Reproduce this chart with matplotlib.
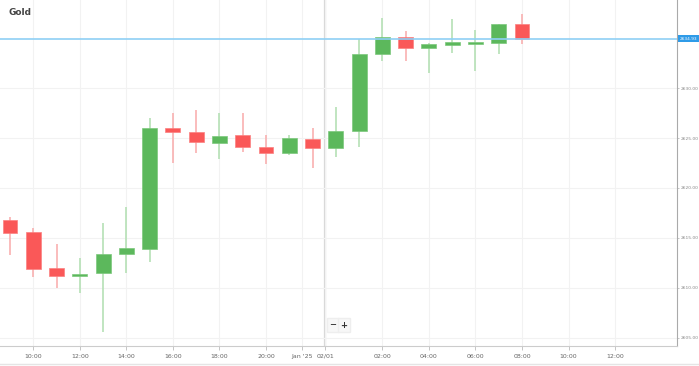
import matplotlib.pyplot as plt
from matplotlib.lines import Line2D

# hourly candles, slot index on x (market break leaves one hour out)
slots = list(range(23))
opens = [2616.8, 2615.6, 2612.0, 2611.2, 2611.5, 2613.4, 2613.9, 2626.0, 2625.6, 2624.5, 2625.3, 2624.1,
         2623.5, 2624.9, 2624.0, 2625.7, 2633.4, 2635.1, 2634.0, 2634.3, 2634.4, 2634.5, 2636.4]
closes = [2615.5, 2611.9, 2611.2, 2611.4, 2613.4, 2614.0, 2626.0, 2625.6, 2624.6, 2625.2, 2624.1, 2623.5,
          2625.0, 2624.0, 2625.7, 2633.4, 2635.1, 2634.0, 2634.4, 2634.5, 2634.6, 2636.4, 2634.9]
highs = [2617.1, 2616.0, 2614.4, 2613.0, 2616.5, 2618.1, 2627.0, 2627.5, 2627.8, 2627.5, 2627.5, 2625.3,
         2625.3, 2626.0, 2628.1, 2634.9, 2637.0, 2635.7, 2634.5, 2636.9, 2635.8, 2636.4, 2637.4]
lows = [2613.3, 2611.1, 2610.0, 2609.5, 2605.6, 2611.5, 2612.6, 2622.5, 2623.5, 2622.9, 2623.6, 2622.4,
        2623.3, 2622.0, 2623.1, 2624.1, 2632.7, 2632.7, 2631.5, 2633.5, 2631.7, 2633.4, 2634.4]
last_price = 2634.93

tick_slots = [1, 3, 5, 7, 9, 11, 12.55, 13.55, 16, 18, 20, 22, 24, 26]
tick_labels = ['10:00', '12:00', '14:00', '16:00', '18:00', '20:00', "Jan '25", '02/01',
               '02:00', '04:00', '06:00', '08:00', '10:00', '12:00']
y_ticks = [2605, 2610, 2615, 2620, 2625, 2630]

green, red = '#5cb85c', '#fa5858'
green_wick, red_wick = '#b5e0b5', '#f9b0b0'

fig = plt.figure(figsize=(6.99, 3.66), dpi=100)
ax = fig.add_axes([0, 20 / 366, 677 / 699, 346 / 366])

for i in slots:
    up = closes[i] >= opens[i]
    ax.vlines(i, lows[i], highs[i], color=green_wick if up else red_wick, linewidth=1.2, zorder=2)
    lo, hi = min(opens[i], closes[i]), max(opens[i], closes[i])
    ax.bar(i, max(hi - lo, 0.25), bottom=lo, width=0.64, color=green if up else red,
           edgecolor='#7cc87c' if up else '#fb8080', linewidth=0.5, zorder=3)

ax.axhline(last_price, color='#8fd0f5', linewidth=1.2, zorder=4)
ax.text(1.004, last_price, f'{last_price:.2f}', transform=ax.get_yaxis_transform(), fontsize=3.1,
        color='white', va='center', ha='left',
        bbox=dict(boxstyle='square,pad=0.35', facecolor='#2f9be8', edgecolor='none'), clip_on=False)

ax.axvline(13.55, color='#d8d8d8', linewidth=1.6, zorder=1)

ax.set_xlim(-0.43, 28.66)
ax.set_ylim(2604.2, 2638.8)
ax.set_xticks(tick_slots)
ax.set_xticklabels(tick_labels)
ax.set_yticks(y_ticks)
ax.set_yticklabels([f'{v:.2f}' for v in y_ticks])
ax.yaxis.tick_right()
ax.tick_params(axis='x', labelsize=4.5, colors='#666666', length=3, width=0.6, pad=4, color='#bbbbbb')
ax.tick_params(axis='y', labelsize=3.2, colors='#888888', length=1.5, width=0.6, pad=1.5, color='#bbbbbb')
for lab in ax.get_xticklabels():
    lab.set_verticalalignment('center_baseline')
ax.grid(True, color='#f2f2f2', linewidth=0.8, zorder=0)
for s in ['left', 'top']:
    ax.spines[s].set_visible(False)
ax.spines['right'].set_color('#aaaaaa')
ax.spines['bottom'].set_color('#cccccc')

ax.text(0.013, 0.965, 'Gold', transform=ax.transAxes, fontsize=6.5, fontweight='bold',
        color='#444444', va='center', ha='left')

# zoom buttons
for xs, sym in [(333, '\u2212'), (344, '+')]:
    fig.text(xs / 699, 1 - 325 / 366, sym, fontsize=6, fontweight='bold', color='#333333',
             ha='center', va='center',
             bbox=dict(boxstyle='square,pad=0.3', facecolor='#f7f7f7', edgecolor='#eeeeee'))

fig.add_artist(Line2D([0, 1], [2 / 366, 2 / 366], color='#e5e5e5', linewidth=1))

plt.savefig('out.png', dpi=100)
